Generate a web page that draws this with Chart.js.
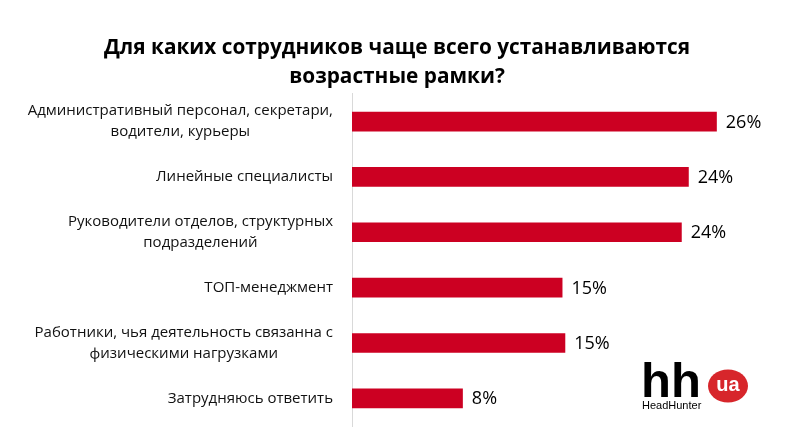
<!DOCTYPE html>
<html>
<head>
<meta charset="utf-8">
<script src="https://cdn.jsdelivr.net/npm/chart.js@4.4.1/dist/chart.umd.min.js"></script>
<style>
  html, body { margin: 0; padding: 0; background: #fff; }
  #wrap { width: 794px; height: 430px; }
</style>
</head>
<body>
<div id="wrap"><canvas id="ageChart" width="794" height="430"></canvas></div>
<script>
// Data
const categories = [
    ['Административный персонал, секретари,', 'водители, курьеры'],
    ['Линейные специалисты'],
    ['Руководители отделов, структурных', 'подразделений'],
    ['ТОП-менеджмент'],
    ['Работники, чья деятельность связанна с', 'физическими нагрузками'],
    ['Затрудняюсь ответить']
];
const shares = [26, 24, 23.5, 15, 15.2, 7.9];
const shareLabels = ['26%', '24%', '24%', '15%', '15%', '8%'];
const titleLines = ['Для каких сотрудников чаще всего устанавливаются', 'возрастные рамки?'];

const FONT = "'Open Sans', sans-serif";

// category labels: block right-aligned to the axis, lines centred inside the block
const categoryLabels = {
    id: 'categoryLabels',
    afterDraw: (chart) => {
        const { ctx } = chart;
        const yScale = chart.scales.y;
        const right = yScale.right - 19;
        const lineH = 21;
        ctx.save();
        ctx.font = '15px ' + FONT;
        ctx.fillStyle = '#111';
        ctx.textAlign = 'center';
        ctx.textBaseline = 'middle';
        categories.forEach((lines, i) => {
            const y = yScale.getPixelForTick(i);
            const w = Math.max(...lines.map(l => ctx.measureText(l).width));
            const cx = right - w / 2;
            const y0 = y - (lines.length - 1) * lineH / 2;
            lines.forEach((l, k) => ctx.fillText(l, cx, y0 + k * lineH));
        });
        ctx.restore();
    }
};

// value labels at the end of every bar
const valueLabels = {
    id: 'valueLabels',
    afterDatasetsDraw: (chart) => {
        const { ctx } = chart;
        const meta = chart.getDatasetMeta(0);
        ctx.save();
        ctx.font = '18px ' + FONT;
        ctx.fillStyle = '#000';
        ctx.textAlign = 'left';
        ctx.textBaseline = 'middle';
        meta.data.forEach((bar, i) => {
            ctx.fillText(shareLabels[i], bar.x + 9, bar.y + 1);
        });
        ctx.restore();
    }
};

// hh.ua logo in the bottom right corner
const logo = {
    id: 'logo',
    afterDraw: (chart) => {
        const { ctx } = chart;
        ctx.save();
        ctx.fillStyle = '#000';
        ctx.textBaseline = 'alphabetic';
        ctx.textAlign = 'left';
        ctx.font = "bold 49px 'Liberation Sans', Arial, sans-serif";
        ctx.fillText('hh', 641, 397);
        ctx.font = "11px 'Liberation Sans', Arial, sans-serif";
        ctx.fillText('HeadHunter', 642, 409);
        ctx.fillStyle = '#d7262b';
        ctx.beginPath();
        ctx.ellipse(728, 386, 20, 16.5, 0, 0, Math.PI * 2);
        ctx.fill();
        ctx.fillStyle = '#fff';
        ctx.font = "bold 20px 'Liberation Sans', Arial, sans-serif";
        ctx.textAlign = 'center';
        ctx.textBaseline = 'middle';
        ctx.fillText('ua', 728, 385);
        ctx.restore();
    }
};

const ctx = document.getElementById('ageChart').getContext('2d');
const ageChart = new Chart(ctx, {
    type: 'bar',
    data: {
        labels: categories.map(l => l.join(' ')),
        datasets: [{
            data: shares,
            backgroundColor: '#cc0022',
            categoryPercentage: 1,
            barPercentage: 0.355
        }]
    },
    options: {
        indexAxis: 'y',
        responsive: false,
        animation: false,
        layout: {
            padding: { left: 0, right: 0, top: 0, bottom: 4 }
        },
        scales: {
            x: {
                display: false,
                min: 0,
                max: 31.5
            },
            y: {
                grid: { display: false, drawTicks: false },
                border: { display: true, color: '#d9d9d9', width: 1 },
                ticks: { display: false },
                afterFit: (scale) => {
                    scale.width = 352; // axis line sits at x = 352
                    scale.paddingTop = 0;
                    scale.paddingBottom = 0;
                }
            }
        },
        plugins: {
            legend: { display: false },
            tooltip: { enabled: false },
            title: {
                display: true,
                text: titleLines,
                color: '#000',
                font: { size: 20.8, weight: 'bold', family: FONT, lineHeight: 1.38 },
                padding: { top: 34, bottom: 2.5 }
            }
        }
    },
    plugins: [categoryLabels, valueLabels, logo]
});
</script>
</body>
</html>
